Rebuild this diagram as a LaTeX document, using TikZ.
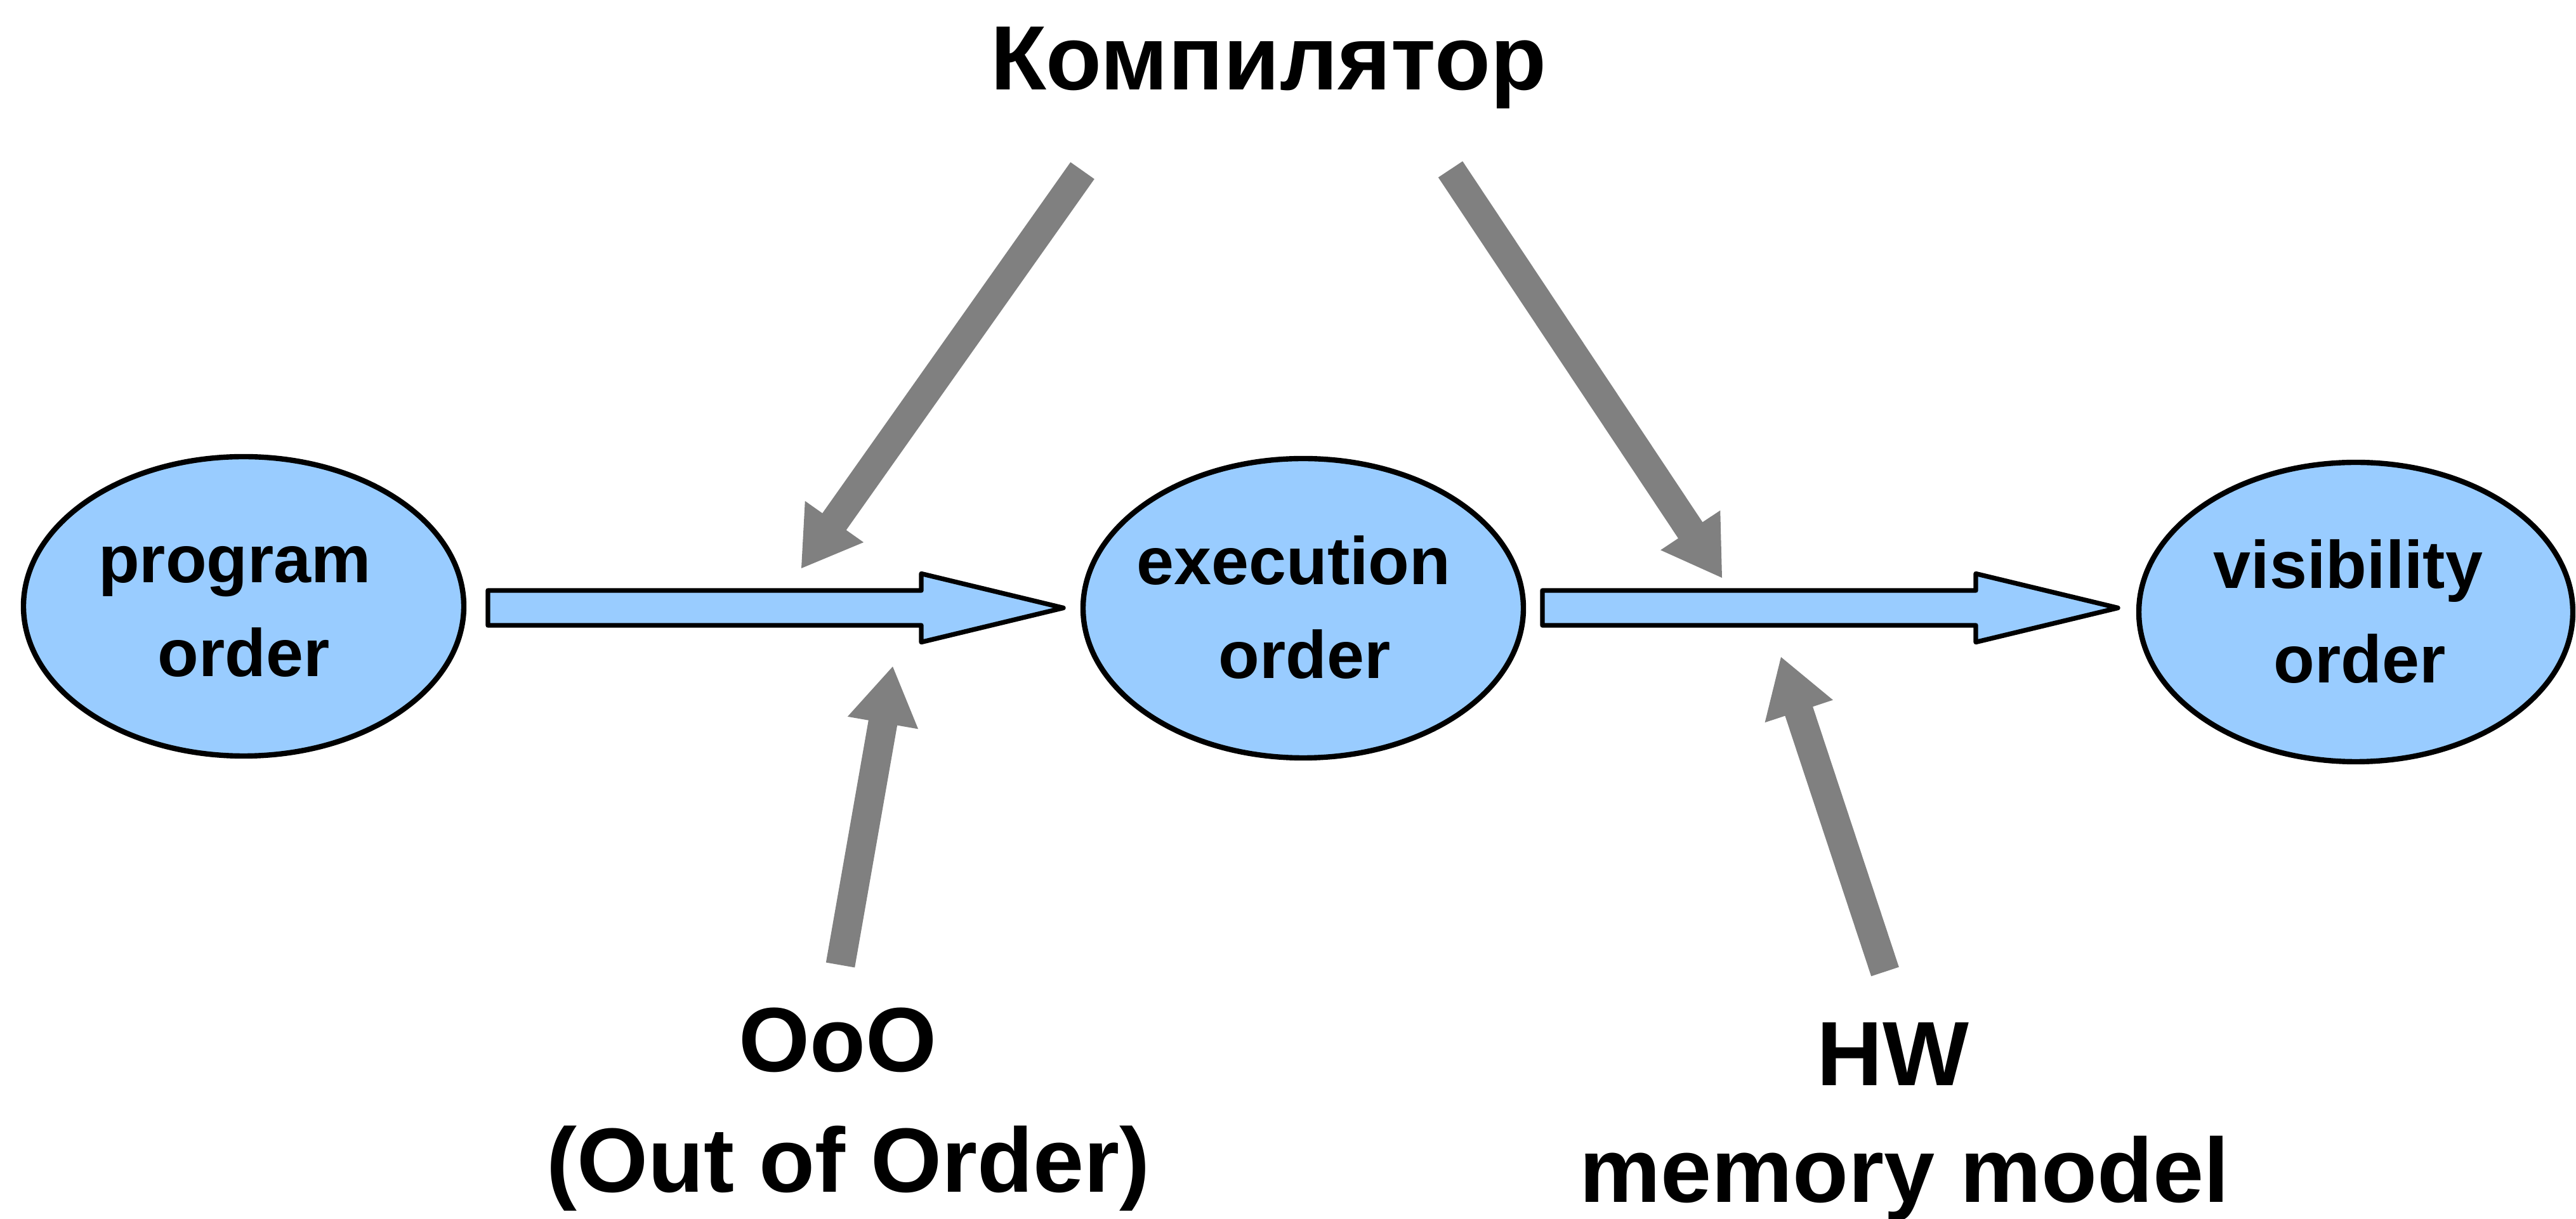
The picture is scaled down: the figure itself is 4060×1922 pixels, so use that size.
\documentclass[tikz,border=0pt]{standalone}
\usepackage{fontspec}
\setmainfont{Liberation Sans}
\usetikzlibrary{calc,shapes.geometric}
\definecolor{ablue}{HTML}{99CCFF}
\definecolor{agray}{HTML}{808080}
\tikzset{
  oval/.style={ellipse, draw=black, line width=2.1pt, fill=ablue, inner sep=0pt, minimum height=118pt},
  intext/.style={anchor=base, inner sep=0pt, font=\fontsize{26.5pt}{31pt}\selectfont\bfseries},
  bigtext/.style={anchor=base, inner sep=0pt, font=\fontsize{36pt}{43pt}\selectfont\bfseries},
  bluearrow/.style={draw=black, line width=1.85pt, line join=round, fill=ablue},
  grayarrow/.style={fill=agray, draw=none}
}
\newcommand\blockarrow[2]{%
  \draw[bluearrow] ($(#1)+(0,-27.5)$) -- ($(#2)+(-224,-27.5)$) -- ($(#2)+(-224,-54)$) -- (#2)
    -- ($(#2)+(-224,54)$) -- ($(#2)+(-224,27.5)$) -- ($(#1)+(0,27.5)$) -- cycle;}
\newcommand\fatarrow[2]{%
  \fill[grayarrow] ($(#1)!5.75pt!90:(#2)$) -- ($(#2)!22.5pt!(#1)!5.75pt!90:(#2)$)
    -- ($(#2)!22.5pt!(#1)!14.125pt!90:(#2)$) -- (#2)
    -- ($(#2)!22.5pt!(#1)!14.125pt!-90:(#2)$) -- ($(#2)!22.5pt!(#1)!5.75pt!-90:(#2)$)
    -- ($(#1)!5.75pt!-90:(#2)$) -- cycle;}
\begin{document}
\begin{tikzpicture}[x=0.25pt,y=-0.25pt]
\useasboundingbox (0,0) rectangle (4060,1922);
% ellipses
\node[oval, minimum width=173.5pt] (e1) at (384,956) {};
\node[oval, minimum width=173.5pt] (e2) at (2054,959) {};
\node[oval, minimum width=171pt] (e3) at (3713,965) {};
\node[intext] (e1a) at (370,919) {program};
\node[intext] (e1b) at (384,1067) {order};
\node[intext] (e2a) at (2039,922) {execution};
\node[intext] (e2b) at (2056,1070) {order};
\node[intext] (e3a) at (3701,928) {visibility};
\node[intext] (e3b) at (3719,1077) {order};
% blue arrows
\coordinate (a1s) at (769,958.5);
\coordinate (a1t) at (1676,958.5);
\coordinate (a2s) at (2431,958.5);
\coordinate (a2t) at (3338,958.5);
\blockarrow{a1s}{a1t}
\blockarrow{a2s}{a2t}
% labels
\node[bigtext] (comp) at (1999,142) {Компилятор};
\node[bigtext] (ooo) at (1320,1690) {OoO};
\node[bigtext] (ooo2) at (1337,1880) {(Out of Order)};
\node[bigtext] (hw) at (2983,1712) {HW};
\node[bigtext] (hw2) at (3002,1896) {memory model};
% gray arrows
\coordinate (g1s) at (1706,269);
\coordinate (g1t) at (1263,896);
\coordinate (g2s) at (2286,267);
\coordinate (g2t) at (2714,911);
\coordinate (g3s) at (1324.5,1521.5);
\coordinate (g3t) at (1407,1051);
\coordinate (g4s) at (2971,1532);
\coordinate (g4t) at (2807,1036);
\fatarrow{g1s}{g1t}
\fatarrow{g2s}{g2t}
\fatarrow{g3s}{g3t}
\fatarrow{g4s}{g4t}
\end{tikzpicture}
\end{document}
